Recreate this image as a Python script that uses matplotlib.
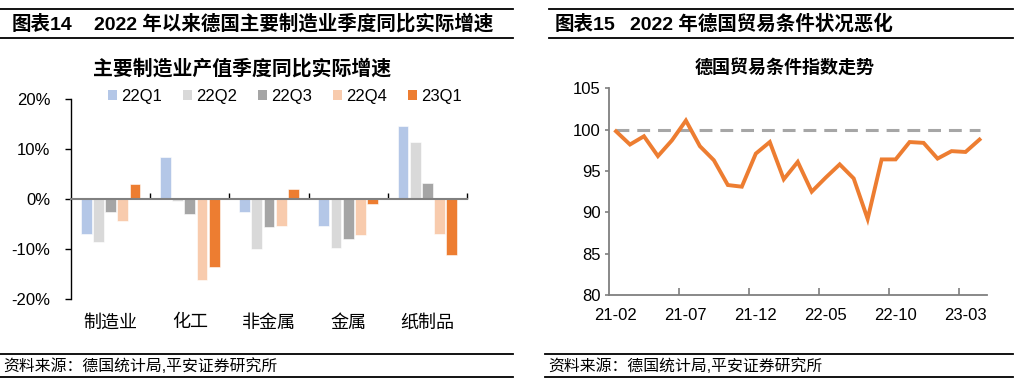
import numpy as np
import matplotlib.pyplot as plt
from matplotlib.lines import Line2D
from matplotlib.patches import Patch

plt.rcParams['font.family'] = ['Liberation Sans', 'Noto Sans CJK SC']
plt.rcParams['axes.unicode_minus'] = False

# left chart data (% yoy, real)
categories = ['制造业', '化工', '非金属', '金属', '纸制品']
quarters = ['22Q1', '22Q2', '22Q3', '22Q4', '23Q1']
q22_1 = [-6.9, 8.5, -2.5, -5.4, 14.7]
q22_2 = [-8.5, -0.3, -10.0, -9.7, 11.5]
q22_3 = [-2.5, -2.9, -5.6, -7.9, 3.2]
q22_4 = [-4.3, -16.2, -5.4, -7.2, -7.0]
q23_1 = [3.1, -13.6, 2.1, -0.9, -11.2]
bar_colors = ['#B4C7E7', '#D9D9D9', '#A5A5A5', '#F8CBAD', '#ED7D31']

# right chart data (terms of trade index)
months = ['21-02', '21-03', '21-04', '21-05', '21-06', '21-07', '21-08', '21-09', '21-10',
          '21-11', '21-12', '22-01', '22-02', '22-03', '22-04', '22-05', '22-06', '22-07',
          '22-08', '22-09', '22-10', '22-11', '22-12', '23-01', '23-02', '23-03', '23-04']
tot_index = [99.8, 98.2, 99.2, 96.8, 98.7, 101.1, 98.0, 96.3, 93.3, 93.1, 97.1, 98.5, 94.0,
             96.1, 92.5, 94.2, 95.8, 94.1, 89.2, 96.4, 96.4, 98.5, 98.4, 96.5, 97.4, 97.3, 98.8]

W, H = 1017, 386
fig = plt.figure(figsize=(W / 100, H / 100), dpi=100)

def fx(px):
    return px / W

def fy(py):
    return 1 - py / H

# header / footer rules and texts
for x0, x1 in [(0, 513), (549, 1013)]:
    for yy in [9, 38]:
        fig.add_artist(Line2D([fx(x0), fx(x1)], [fy(yy), fy(yy)], color='black', lw=1.3))
for x0, x1 in [(0, 513), (545, 1013)]:
    for yy in [354, 377]:
        fig.add_artist(Line2D([fx(x0), fx(x1)], [fy(yy), fy(yy)], color='black', lw=1.3))

fig.text(fx(12), fy(24), '图表14', fontsize=14, fontweight='bold', va='center')
fig.text(fx(94), fy(24), '2022 年以来德国主要制造业季度同比实际增速', fontsize=14,
         fontweight='bold', va='center')
fig.text(fx(555), fy(24), '图表15', fontsize=14, fontweight='bold', va='center')
fig.text(fx(630), fy(24), '2022 年德国贸易条件状况恶化', fontsize=14,
         fontweight='bold', va='center')
fig.text(fx(3), fy(366), '资料来源：德国统计局,平安证券研究所', fontsize=11.4, va='center')
fig.text(fx(548), fy(366), '资料来源：德国统计局,平安证券研究所', fontsize=11.4, va='center')

# ---- left: grouped bars
ax1 = fig.add_axes([fx(71), fy(299), fx(467 - 71), (299 - 99) / H])
series = [q22_1, q22_2, q22_3, q22_4, q23_1]
x = np.arange(len(categories))
step, bw = 0.154, 0.135
for i, (vals, c, q) in enumerate(zip(series, bar_colors, quarters)):
    ax1.bar(x + (i - 2) * step, vals, width=bw, color=c, edgecolor='white', linewidth=0.4, label=q)

ax1.set_xlim(-0.5, 4.5)
ax1.set_ylim(-20, 20)
ax1.set_yticks([-20, -10, 0, 10, 20])
ax1.set_yticklabels(['-20%', '-10%', '0%', '10%', '20%'], fontsize=12)
ax1.tick_params(axis='y', direction='out', length=4, width=1, pad=11)
for s in ['top', 'right']:
    ax1.spines[s].set_visible(False)
ax1.spines['left'].set_linewidth(1)
ax1.spines['bottom'].set_position(('data', 0))
ax1.spines['bottom'].set_color('#808080')
ax1.spines['bottom'].set_linewidth(1.5)
ax1.set_xticks([0.5, 1.5, 2.5, 3.5, 4.5])
ax1.set_xticklabels([])
ax1.tick_params(axis='x', direction='in', length=4, width=1, color='black')
for xi, cat in zip(x, categories):
    ax1.text(xi, -0.12, cat, transform=ax1.get_xaxis_transform(), ha='center', va='center',
             fontsize=13)

fig.text(fx(242), fy(69), '主要制造业产值季度同比实际增速', fontsize=14.3, fontweight='bold',
         ha='center', va='center')
handles = [Patch(facecolor=c, edgecolor='none') for c in bar_colors]
fig.legend(handles, quarters, loc='center', bbox_to_anchor=(fx(285), fy(96)), ncol=5,
           frameon=False, fontsize=12, handlelength=0.55, handleheight=0.55,
           handletextpad=0.25, columnspacing=1.25, borderaxespad=0, borderpad=0)

# ---- right: line
ax2 = fig.add_axes([fx(609), fy(295), fx(986.5 - 609), (295 - 88.3) / H])
xi = np.arange(len(months))
ax2.plot(xi, [100] * len(months), color='#A6A6A6', lw=2.2, linestyle=(0, (4.2, 2.6)))
ax2.plot(xi, tot_index, color='#ED7D31', lw=2.8, solid_joinstyle='miter')
ax2.set_xlim(-0.5, len(months) - 0.5)
ax2.set_ylim(80, 105)
ax2.set_yticks([80, 85, 90, 95, 100, 105])
ax2.tick_params(axis='y', direction='out', length=3, width=1.2, color='#7F7F7F', pad=3,
                labelsize=12)
for s in ['top', 'right']:
    ax2.spines[s].set_visible(False)
for s in ['left', 'bottom']:
    ax2.spines[s].set_color('#7F7F7F')
    ax2.spines[s].set_linewidth(1.3)
ax2.set_xticks([4.5, 9.5, 14.5, 19.5, 24.5])
ax2.set_xticklabels([])
ax2.tick_params(axis='x', which='major', direction='in', length=5, width=1.2, color='#7F7F7F')
ax2.set_xticks(xi[::5], minor=True)
ax2.set_xticklabels(months[::5], minor=True, fontsize=12)
ax2.tick_params(axis='x', which='minor', length=0, pad=9)
fig.text(fx(785), fy(68), '德国贸易条件指数走势', fontsize=13, fontweight='bold',
         ha='center', va='center')

fig.savefig('out.png', dpi=100)
